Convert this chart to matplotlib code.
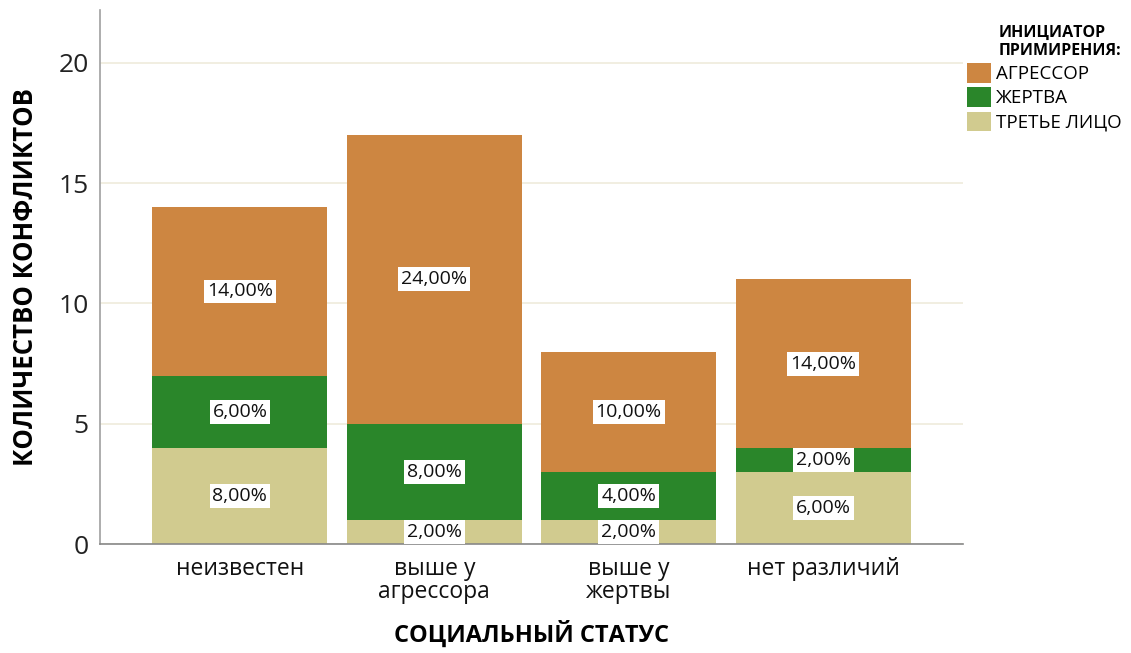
import numpy as np
import matplotlib
matplotlib.use('Agg')
import matplotlib.pyplot as plt
from matplotlib.patches import Patch

plt.rcParams['font.family'] = ['Open Sans', 'DejaVu Sans']

# --- DATA ---
categories = ['неизвестен', 'выше у\nагрессора', 'выше у\nжертвы', 'нет различий']
series_names = ['АГРЕССОР', 'ЖЕРТВА', 'ТРЕТЬЕ ЛИЦО']
third_party = [4, 1, 1, 3]
victim = [3, 4, 2, 1]
aggressor = [7, 12, 5, 7]
total_n = 50

colors = {'АГРЕССОР': '#CD8641', 'ЖЕРТВА': '#2A862A', 'ТРЕТЬЕ ЛИЦО': '#D1CB8F'}

# --- PLOT ---
fig = plt.figure(figsize=(11.31, 6.53), dpi=100)
ax = fig.add_axes([0.0884, 0.1669, 0.7631, 0.8178])

x = np.arange(len(categories))
width = 0.9
bottom = np.zeros(len(categories))
stack = [('ТРЕТЬЕ ЛИЦО', third_party), ('ЖЕРТВА', victim), ('АГРЕССОР', aggressor)]
for name, vals in stack:
    vals = np.array(vals, dtype=float)
    ax.bar(x, vals, width, bottom=bottom, color=colors[name], zorder=2)
    for xi, b, v in zip(x, bottom, vals):
        pct = f"{v / total_n * 100:.2f}%".replace('.', ',')
        ax.text(xi, b + v / 2, pct, ha='center', va='center', fontsize=14,
                color='#111111', zorder=4,
                bbox=dict(boxstyle='square,pad=0.15', fc='white', ec='none'))
    bottom += vals

ax.set_xlim(-0.72, 3.72)
ax.set_ylim(0, 22.2)
ax.set_yticks([0, 5, 10, 15, 20])
ax.set_xticks(x)
ax.set_xticklabels(categories, fontsize=16.5, linespacing=0.95)
ax.tick_params(axis='y', labelsize=19, length=0, pad=8, colors='#222222')
ax.tick_params(axis='x', length=0, pad=9, colors='#111111')

ax.yaxis.grid(True, color='#EFEBDC', linewidth=1.2, zorder=0)
ax.set_axisbelow(True)
for s in ['top', 'right']:
    ax.spines[s].set_visible(False)
ax.spines['left'].set_color('#A0A0A0')
ax.spines['bottom'].set_color('#888888')
ax.spines['left'].set_linewidth(1.2)
ax.spines['bottom'].set_linewidth(1.2)

ax.set_ylabel('КОЛИЧЕСТВО КОНФЛИКТОВ', fontsize=18.5, fontweight='bold', labelpad=14)
ax.set_xlabel('СОЦИАЛЬНЫЙ СТАТУС', fontsize=17, fontweight='bold', labelpad=12)

handles = [Patch(facecolor=colors[n], edgecolor='none') for n in series_names]
leg = fig.legend(handles, series_names, loc='upper left', bbox_to_anchor=(0.855, 0.962),
                 frameon=False, fontsize=13.5, title='ИНИЦИАТОР\nПРИМИРЕНИЯ:',
                 title_fontproperties={'weight': 'bold', 'size': 11.5},
                 handlelength=1.3, handleheight=1.2, handletextpad=0.25,
                 labelspacing=0.22, alignment='right', borderpad=0, borderaxespad=0)
leg._legend_box.sep = 3

fig.savefig('out.png', dpi=100)
